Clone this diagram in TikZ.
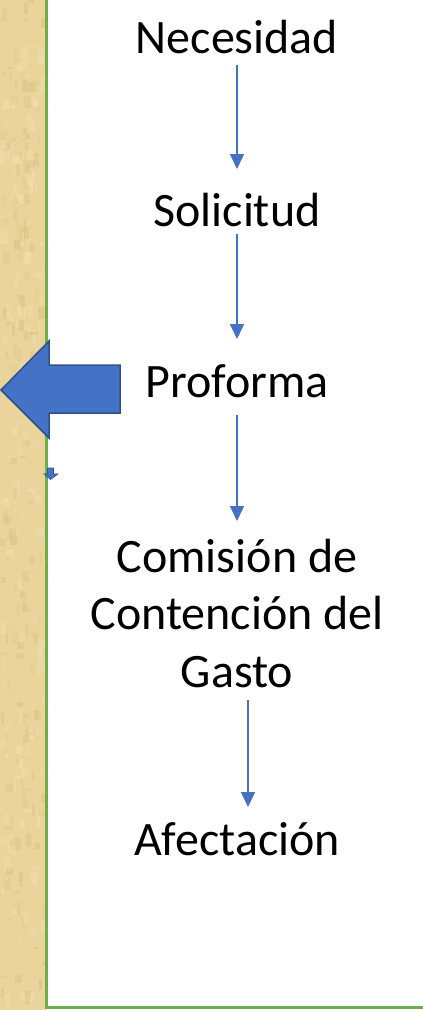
\documentclass[tikz,border=0pt]{standalone}
\usepackage{fontspec}
\setmainfont{Carlito}
\usetikzlibrary{arrows.meta}
\definecolor{tan}{RGB}{234,212,155}
\definecolor{tandark}{RGB}{214,188,122}
\definecolor{tanlight}{RGB}{243,228,184}
\definecolor{edgegreen}{RGB}{112,173,71}
\definecolor{flowblue}{RGB}{68,114,196}
\definecolor{flowblueedge}{RGB}{47,82,143}
\tikzset{
  label text/.style={inner sep=0pt, anchor=base, font=\fontsize{48}{57.5}\selectfont, align=center},
  flow/.style={draw=flowblue, line width=1.5pt, -{Triangle[width=14pt,length=15pt]}},
  bigarrow/.style={fill=flowblue, draw=flowblueedge, line width=1.5pt, line join=miter},
}
\begin{document}
\begin{tikzpicture}[x=1pt,y=-1pt]
\useasboundingbox (0,0) rectangle (423,1010);
\fill[white] (0,0) rectangle (423,1010);
% textured strip
\fill[tan] (0,0) rectangle (46,1010);
\pgfmathsetseed{7}
\foreach \i in {1,...,320}{
  \pgfmathsetmacro{\xx}{rnd*42}
  \pgfmathsetmacro{\yy}{rnd*1005}
  \pgfmathsetmacro{\ww}{2+rnd*6}
  \pgfmathsetmacro{\hh}{2+rnd*12}
  \pgfmathsetmacro{\op}{0.12+rnd*0.3}
  \ifodd\i
    \fill[tandark, opacity=\op] (\xx,\yy) rectangle ++(\ww,\hh);
  \else
    \fill[tanlight, opacity=\op] (\xx,\yy) rectangle ++(\ww,\hh);
  \fi
}
% green frame edges
\draw[edgegreen, line width=3.2pt] (46.6,0) -- (46.6,1007.4) -- (423,1007.4);
% labels
\node[label text] (nec) at (237,53) {Necesidad};
\node[label text] (sol) at (237,226) {Solicitud};
\node[label text] (pro) at (237,397) {Proforma};
\node[label text] (com) at (237,687) {Comisión de\\Contención del\\Gasto};
\node[label text] (afe) at (237,855) {Afectación};
% connector ends
\coordinate (a1s) at (237,65);  \coordinate (a1e) at (237,169);
\coordinate (a2s) at (237,234); \coordinate (a2e) at (237,339);
\coordinate (a3s) at (237,415); \coordinate (a3e) at (237,521);
\coordinate (a4s) at (248,700); \coordinate (a4e) at (248,807);
\draw[flow] (a1s) -- (a1e);
\draw[flow] (a2s) -- (a2e);
\draw[flow] (a3s) -- (a3e);
\draw[flow] (a4s) -- (a4e);
% big left arrow
\path[bigarrow] (1,390) -- (49,341) -- (49,365) -- (120,365) -- (120,413) -- (49,413) -- (49,438) -- cycle;
% small down arrow
\path[fill=flowblue, draw=flowblueedge, line width=0.6pt] (47.5,468) -- (53.5,468) -- (53.5,474) -- (58,474) -- (50.5,479.5) -- (44,474) -- (47.5,474) -- cycle;
\end{tikzpicture}
\end{document}
